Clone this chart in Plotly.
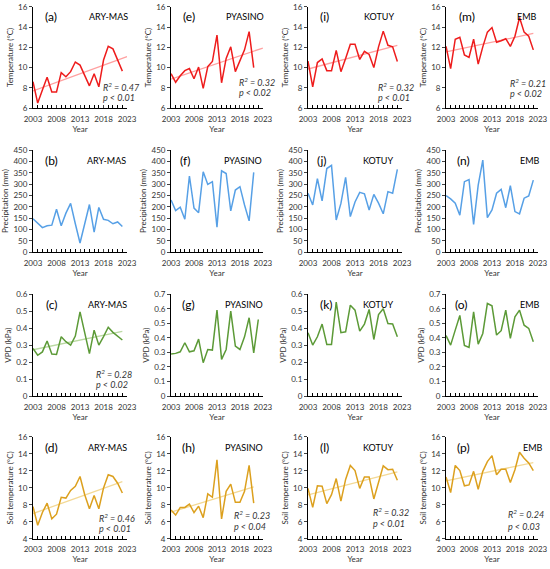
"""Climate trends 2003-2022 at four Siberian sites: 4x4 panel grid."""
import numpy as np
import plotly.graph_objects as go

YEARS = [2003, 2004, 2005, 2006, 2007, 2008, 2009, 2010, 2011, 2012,
         2013, 2014, 2015, 2016, 2017, 2018, 2019, 2020, 2021, 2022]
SITES = ["ARY-MAS", "PYASINO", "KOTUY", "EMB"]

# air temperature (°C)
temp_arymas = [8.6, 6.5, 7.8, 9.05, 7.6, 7.6, 9.5, 9.1, 9.6, 10.55,
               10.25, 9.3, 8.2, 9.4, 8.1, 10.75, 12.1, 11.85, 10.75, 9.65]
temp_pyasino = [9.4, 8.55, 9.2, 9.7, 9.9, 8.9, 10.05, 7.95, 10.1, 10.6,
                13.2, 8.5, 10.9, 12.05, 9.6, 10.75, 11.75, 13.55, 10.0]
temp_kotuy = [10.65, 8.1, 10.5, 10.85, 9.7, 9.7, 11.7, 9.6, 10.9, 12.3,
              12.3, 10.8, 11.6, 11.3, 10.0, 12.05, 13.6, 12.2, 12.05, 10.6]
temp_emb = [12.1, 9.9, 12.8, 13.0, 11.25, 11.0, 12.8, 10.35, 12.05, 13.5,
            13.95, 12.5, 12.65, 12.85, 12.1, 13.1, 14.95, 13.5, 13.1, 11.75]

# precipitation (mm)
prec_arymas = [147, 128, 108, 116, 119, 189, 116, 172, 215, 125,
               40, 125, 210, 88, 197, 145, 140, 125, 133, 113]
prec_pyasino = [230, 183, 198, 145, 336, 194, 174, 355, 299, 311,
                110, 359, 347, 182, 274, 289, 208, 138, 352]
prec_kotuy = [260, 208, 324, 226, 369, 383, 142, 215, 330, 157,
              221, 264, 257, 186, 255, 216, 169, 267, 260, 365]
prec_emb = [249, 235, 216, 163, 311, 320, 122, 296, 406, 152,
            186, 260, 277, 196, 293, 179, 169, 238, 248, 318]

# vapour pressure deficit (kPa)
vpd_arymas = [0.28, 0.24, 0.26, 0.324, 0.247, 0.245, 0.349, 0.32, 0.30, 0.353,
              0.496, 0.37, 0.25, 0.388, 0.30, 0.35, 0.405, 0.375, 0.355, 0.33]
vpd_pyasino = [0.288, 0.293, 0.304, 0.366, 0.304, 0.311, 0.391, 0.229, 0.32, 0.316,
               0.59, 0.252, 0.32, 0.584, 0.343, 0.32, 0.407, 0.538, 0.297, 0.526]
vpd_kotuy = [0.373, 0.30, 0.349, 0.424, 0.304, 0.304, 0.553, 0.373, 0.378, 0.535,
             0.506, 0.382, 0.424, 0.51, 0.333, 0.48, 0.514, 0.427, 0.424, 0.349]
vpd_emb = [0.416, 0.35, 0.453, 0.554, 0.348, 0.334, 0.579, 0.357, 0.43, 0.636,
           0.62, 0.419, 0.449, 0.59, 0.396, 0.545, 0.59, 0.487, 0.465, 0.373]

# soil temperature (°C)
soil_arymas = [7.8, 5.6, 7.1, 8.2, 6.35, 6.9, 8.9, 8.8, 9.7, 10.2,
               11.35, 9.2, 7.55, 9.1, 7.55, 10.0, 11.55, 11.35, 10.55, 9.4]
soil_pyasino = [7.4, 6.8, 7.7, 7.7, 8.1, 7.1, 7.85, 6.5, 9.3, 8.9,
                13.3, 6.35, 9.6, 10.45, 8.3, 8.3, 9.6, 12.65, 8.2]
soil_kotuy = [9.95, 7.7, 10.25, 10.2, 8.15, 9.2, 11.1, 8.45, 11.0, 12.65,
              12.05, 9.95, 11.3, 11.3, 8.7, 10.75, 12.6, 12.15, 12.2, 10.9]
soil_emb = [11.3, 9.45, 12.65, 12.05, 10.25, 10.35, 11.95, 9.85, 11.95, 13.1,
            13.8, 11.55, 12.2, 12.2, 10.65, 12.15, 14.2, 13.5, 12.95, 12.05]

# regression statistics shown on panels (None = no trend line)
r2_temp = ["0.47", "0.32", "0.32", "0.21"]
p_temp = ["0.01", "0.02", "0.01", "0.02"]
r2_vpd = ["0.28", None, None, None]
p_vpd = ["0.02", None, None, None]
r2_soil = ["0.46", "0.23", "0.32", "0.24"]
p_soil = ["0.01", "0.04", "0.01", "0.03"]
# last year reached by each drawn trend line
trend_end_temp = [2023, 2023, 2022, 2022]
trend_end_vpd = [2022, None, None, None]
trend_end_soil = [2022, 2021, 2022, 2022]

rows = [
    dict(data=[temp_arymas, temp_pyasino, temp_kotuy, temp_emb],
         r2=r2_temp, p=p_temp, tend=trend_end_temp, title="Temperature (°C)",
         color="#EE1C1C", trend="#FFA0A0",
         ranges=[[6, 16]] * 4, dtick=2),
    dict(data=[prec_arymas, prec_pyasino, prec_kotuy, prec_emb],
         r2=[None] * 4, p=[None] * 4, tend=[None] * 4,
         title="Precipitation (mm)", color="#57A0E6", trend=None,
         ranges=[[0, 450]] * 4, dtick=50),
    dict(data=[vpd_arymas, vpd_pyasino, vpd_kotuy, vpd_emb],
         r2=r2_vpd, p=p_vpd, tend=trend_end_vpd, title="VPD (kPa)",
         color="#5C9A37", trend="#BAD9A2",
         ranges=[[0, 0.6], [0, 0.7], [0, 0.6], [0, 0.7]], dtick=0.1),
    dict(data=[soil_arymas, soil_pyasino, soil_kotuy, soil_emb],
         r2=r2_soil, p=p_soil, tend=trend_end_soil,
         title="Soil temperature (°C)", color="#DCA01E", trend="#F3D996",
         ranges=[[4, 16]] * 4, dtick=2),
]

X_DOM = [(0.060, 0.231), (0.311, 0.478), (0.560, 0.731), (0.811, 0.978)]
Y_DOM = [(0.810, 0.988), (0.557, 0.736), (0.304, 0.483), (0.053, 0.232)]
LETTERS = "abcdefghijklmnop"
# per panel: x of panel letter, x of site name, (x, y_r2, y_p) of stats text
LETTER_X = [[0.19, 0.19, 0.18, 0.23], [0.20, 0.15, 0.15, 0.19],
            [0.20, 0.19, 0.20, 0.17], [0.20, 0.19, 0.18, 0.19]]
SITE_X = [[0.80, 0.81, 0.755, 0.88], [0.78, 0.78, 0.74, 0.91],
          [0.79, 0.79, 0.74, 0.91], [0.79, 0.79, 0.74, 0.95]]
STAT_POS = [[(0.72, 0.21, 0.10), (0.72, 0.26, 0.15), (0.72, 0.21, 0.10), (0.67, 0.25, 0.14)],
            [None, None, None, None],
            [(0.65, 0.22, 0.11), None, None, None],
            [(0.68, 0.20, 0.10), (0.66, 0.23, 0.12), (0.67, 0.26, 0.15), (0.65, 0.24, 0.12)]]

FONT = "Lato, 'Open Sans', sans-serif"
TXT = "#333333"

fig = go.Figure()
annotations = []

for i, row in enumerate(rows):
    for j, site in enumerate(SITES):
        k = i * 4 + j + 1
        ax = "" if k == 1 else str(k)
        vals = row["data"][j]
        yrs = YEARS[:len(vals)]
        if row["r2"][j] is not None:
            slope, icpt = np.polyfit(yrs, vals, 1)
            tx = [yrs[0], row["tend"][j]]
            fig.add_trace(go.Scatter(
                x=tx, y=[slope * t + icpt for t in tx], mode="lines",
                line=dict(color=row["trend"], width=1.3),
                xaxis="x" + ax, yaxis="y" + ax, hoverinfo="skip"))
        fig.add_trace(go.Scatter(
            x=yrs, y=vals, mode="lines",
            line=dict(color=row["color"], width=1.5),
            xaxis="x" + ax, yaxis="y" + ax))

        fig.layout["xaxis" + ax] = dict(
            domain=X_DOM[j], anchor="y" + ax, range=[2003, 2023],
            tick0=2003, dtick=5, ticks="inside", ticklen=3, automargin=False,
            minor=dict(dtick=1, ticks="inside", ticklen=3, tickcolor="black"),
            ticklabelstandoff=3,
            showline=True, linecolor="black", linewidth=1,
            showgrid=False, zeroline=False,
            tickfont=dict(family=FONT, size=8, color=TXT),
            title=dict(text="Year", font=dict(family=FONT, size=8, color=TXT),
                       standoff=2))
        fig.layout["yaxis" + ax] = dict(
            domain=Y_DOM[i], anchor="x" + ax, range=row["ranges"][j],
            dtick=row["dtick"], ticks="outside", ticklen=3, automargin=False,
            showline=True, linecolor="black", linewidth=1,
            showgrid=False, zeroline=False,
            tickfont=dict(family=FONT, size=8, color=TXT),
            title=dict(text=row["title"],
                       font=dict(family=FONT, size=8, color=TXT), standoff=3))

        xr, yr = "x" + ax + " domain", "y" + ax + " domain"
        annotations.append(dict(
            text="(" + LETTERS[j * 4 + i] + ")", x=LETTER_X[i][j], y=0.9,
            xref=xr, yref=yr, xanchor="center", yanchor="middle",
            showarrow=False, font=dict(family=FONT, size=12, color="black")))
        annotations.append(dict(
            text=site, x=SITE_X[i][j], y=0.9, xref=xr, yref=yr,
            xanchor="center", yanchor="middle",
            showarrow=False, font=dict(family=FONT, size=9, color="black")))
        if STAT_POS[i][j] is not None:
            sx, sy1, sy2 = STAT_POS[i][j]
            for txt, sy in [("R<sup>2</sup> = " + row["r2"][j], sy1),
                            ("p < " + row["p"][j], sy2)]:
                annotations.append(dict(
                    text=txt, x=sx, y=sy, xref=xr, yref=yr,
                    xanchor="left", yanchor="middle", showarrow=False,
                    font=dict(family=FONT, size=9, color=TXT, style="italic")))

fig.update_layout(
    width=550, height=569, showlegend=False,
    margin=dict(l=0, r=0, t=0, b=0),
    paper_bgcolor="white", plot_bgcolor="white",
    annotations=annotations)

# the page's default body margin would push the 550x569 figure off the window
fig.write_html("out.html", config={"displayModeBar": False},
               post_script="document.body.style.margin = '0';")
